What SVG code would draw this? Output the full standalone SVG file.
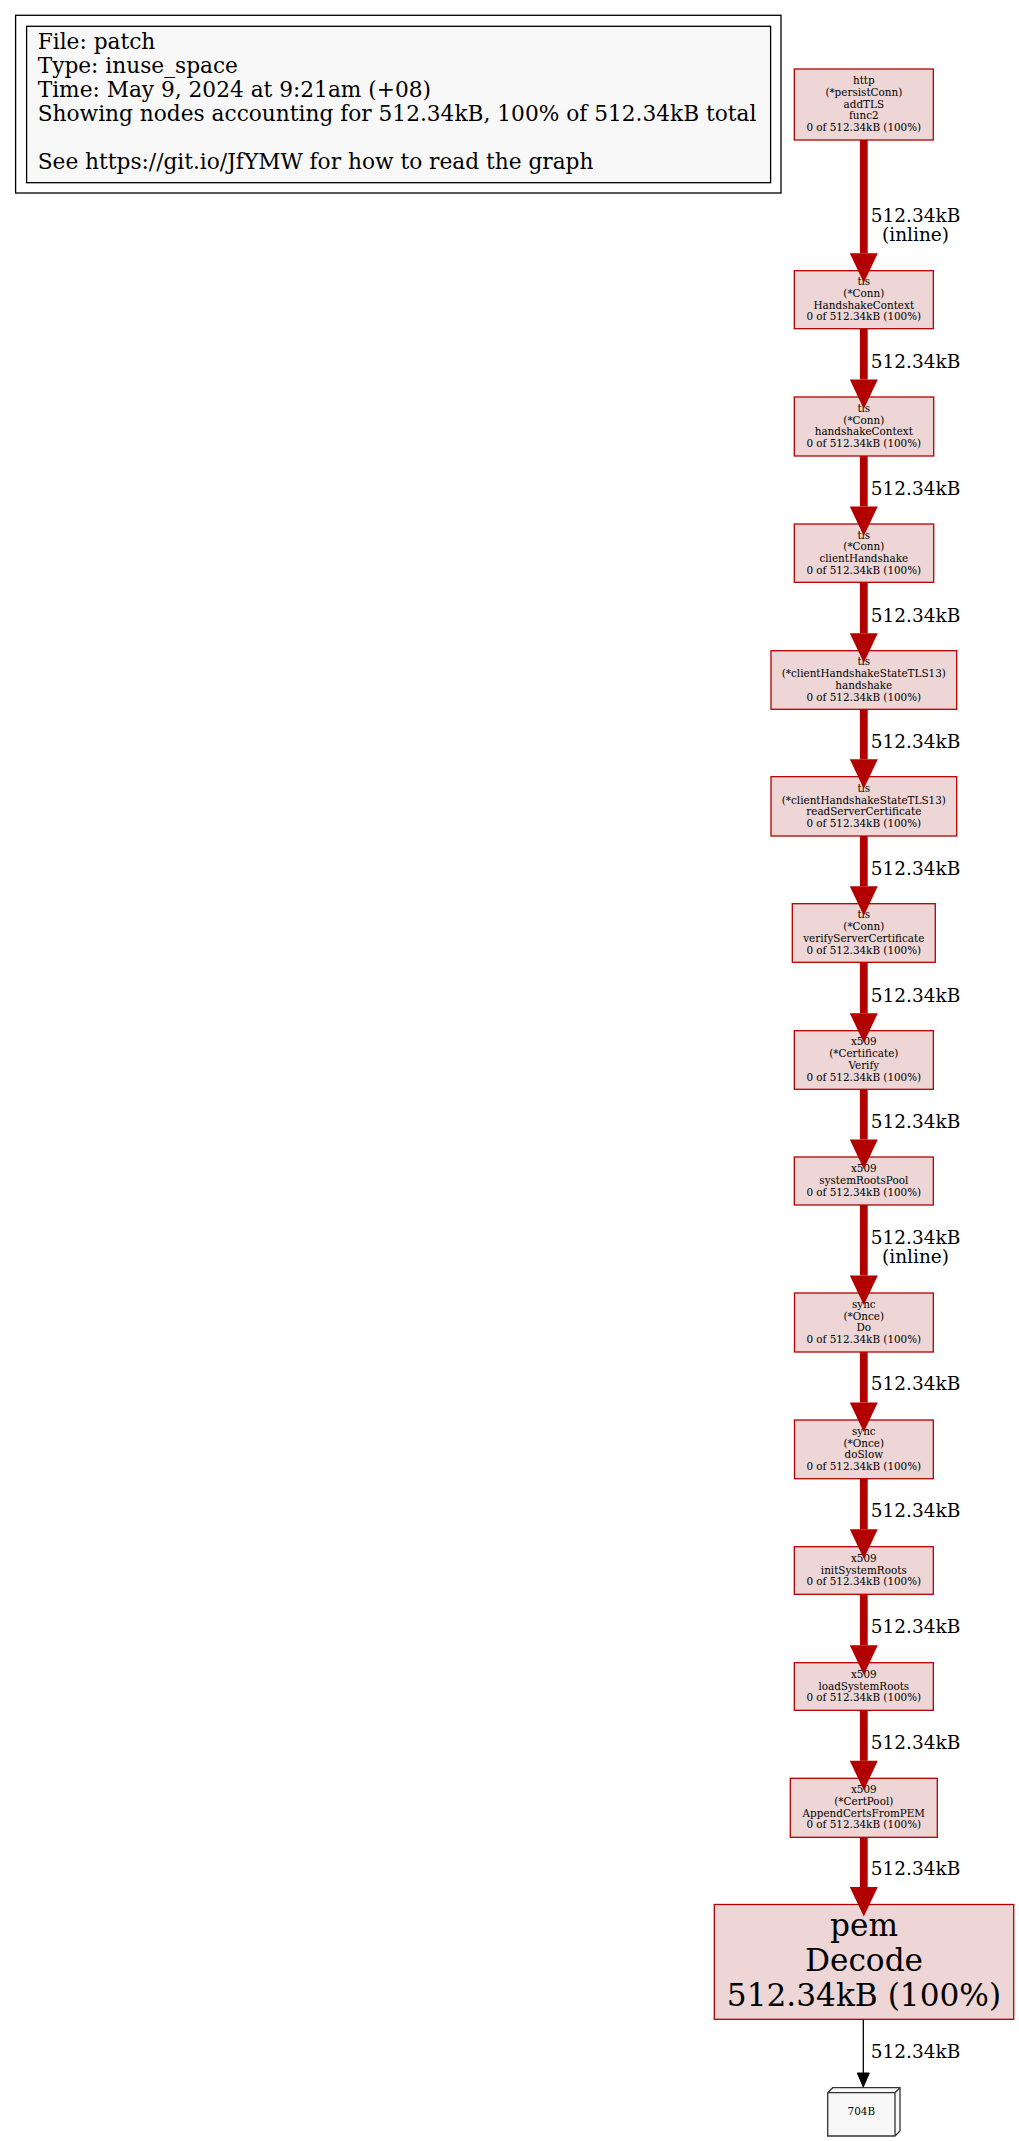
<svg xmlns="http://www.w3.org/2000/svg" width="1019" height="2141" viewBox="0 0 1019 2141">
<style>
.bg{fill:#ffffff}
.nd{fill:#edd6d5;stroke:#b20000;stroke-width:1.3}
.nt{font-family:"DejaVu Serif",serif;font-size:10.4px;fill:#000;text-anchor:middle}
.lg{font-family:"DejaVu Serif",serif;font-size:21.7px;fill:#000}
.el{font-family:"DejaVu Serif",serif;font-size:18.5px;fill:#000;text-anchor:middle}
.ed{stroke:#b20000;stroke-width:7.8;fill:none}
.ah{fill:#b20000;stroke:none}
</style>
<rect class="bg" x="0" y="0" width="1019" height="2141"/>
<g id="legend">
<rect x="15.6" y="15.3" width="765.4" height="177.7" fill="#ffffff" stroke="#000" stroke-width="1.3"/>
<rect x="26.6" y="26.3" width="744" height="156.4" fill="#f8f8f8" stroke="#000" stroke-width="1.3"/>
<text class="lg" x="37.7" y="48.5">File: patch</text>
<text class="lg" x="37.7" y="72.5">Type: inuse_space</text>
<text class="lg" x="37.7" y="96.5">Time: May 9, 2024 at 9:21am (+08)</text>
<text class="lg" x="37.7" y="120.5">Showing nodes accounting for 512.34kB, 100% of 512.34kB total</text>
<text class="lg" x="37.7" y="168.5">See https://git.io/JfYMW for how to read the graph</text>
</g>
<g id="N1"><rect class="nd" x="794.3" y="69" width="139" height="71"/>
<text class="nt" x="863.8" y="84.1">http</text><text class="nt" x="863.8" y="95.8">(*persistConn)</text><text class="nt" x="863.8" y="107.5">addTLS</text><text class="nt" x="863.8" y="119.2">func2</text><text class="nt" x="863.8" y="130.9">0 of 512.34kB (100%)</text></g>
<g id="N2"><rect class="nd" x="794.3" y="270.7" width="139" height="58"/>
<text class="nt" x="863.8" y="285.15">tls</text><text class="nt" x="863.8" y="296.85">(*Conn)</text><text class="nt" x="863.8" y="308.55">HandshakeContext</text><text class="nt" x="863.8" y="320.25">0 of 512.34kB (100%)</text></g>
<g id="N3"><rect class="nd" x="794.3" y="397" width="139.4" height="59"/>
<text class="nt" x="863.8" y="411.95">tls</text><text class="nt" x="863.8" y="423.65">(*Conn)</text><text class="nt" x="863.8" y="435.35">handshakeContext</text><text class="nt" x="863.8" y="447.05">0 of 512.34kB (100%)</text></g>
<g id="N4"><rect class="nd" x="794.3" y="524" width="139.4" height="58.3"/>
<text class="nt" x="863.8" y="538.6">tls</text><text class="nt" x="863.8" y="550.3">(*Conn)</text><text class="nt" x="863.8" y="562">clientHandshake</text><text class="nt" x="863.8" y="573.7">0 of 512.34kB (100%)</text></g>
<g id="N5"><rect class="nd" x="771" y="650.7" width="185.7" height="58.6"/>
<text class="nt" x="863.8" y="665.45">tls</text><text class="nt" x="863.8" y="677.15">(*clientHandshakeStateTLS13)</text><text class="nt" x="863.8" y="688.85">handshake</text><text class="nt" x="863.8" y="700.55">0 of 512.34kB (100%)</text></g>
<g id="N6"><rect class="nd" x="771" y="776.7" width="185.7" height="59.3"/>
<text class="nt" x="863.8" y="791.8">tls</text><text class="nt" x="863.8" y="803.5">(*clientHandshakeStateTLS13)</text><text class="nt" x="863.8" y="815.2">readServerCertificate</text><text class="nt" x="863.8" y="826.9">0 of 512.34kB (100%)</text></g>
<g id="N7"><rect class="nd" x="792.3" y="903.7" width="143" height="58.6"/>
<text class="nt" x="863.8" y="918.45">tls</text><text class="nt" x="863.8" y="930.15">(*Conn)</text><text class="nt" x="863.8" y="941.85">verifyServerCertificate</text><text class="nt" x="863.8" y="953.55">0 of 512.34kB (100%)</text></g>
<g id="N8"><rect class="nd" x="794.3" y="1030.7" width="139" height="58.6"/>
<text class="nt" x="863.8" y="1045.45">x509</text><text class="nt" x="863.8" y="1057.15">(*Certificate)</text><text class="nt" x="863.8" y="1068.85">Verify</text><text class="nt" x="863.8" y="1080.55">0 of 512.34kB (100%)</text></g>
<g id="N9"><rect class="nd" x="794.3" y="1157" width="139" height="48"/>
<text class="nt" x="863.8" y="1172.3">x509</text><text class="nt" x="863.8" y="1184">systemRootsPool</text><text class="nt" x="863.8" y="1195.7">0 of 512.34kB (100%)</text></g>
<g id="N10"><rect class="nd" x="794.5" y="1293" width="138.8" height="59"/>
<text class="nt" x="863.8" y="1307.95">sync</text><text class="nt" x="863.8" y="1319.65">(*Once)</text><text class="nt" x="863.8" y="1331.35">Do</text><text class="nt" x="863.8" y="1343.05">0 of 512.34kB (100%)</text></g>
<g id="N11"><rect class="nd" x="794.5" y="1420" width="138.8" height="58.7"/>
<text class="nt" x="863.8" y="1434.8">sync</text><text class="nt" x="863.8" y="1446.5">(*Once)</text><text class="nt" x="863.8" y="1458.2">doSlow</text><text class="nt" x="863.8" y="1469.9">0 of 512.34kB (100%)</text></g>
<g id="N12"><rect class="nd" x="794.3" y="1546.7" width="139" height="47.6"/>
<text class="nt" x="863.8" y="1561.8">x509</text><text class="nt" x="863.8" y="1573.5">initSystemRoots</text><text class="nt" x="863.8" y="1585.2">0 of 512.34kB (100%)</text></g>
<g id="N13"><rect class="nd" x="794.3" y="1662.7" width="139" height="47.6"/>
<text class="nt" x="863.8" y="1677.8">x509</text><text class="nt" x="863.8" y="1689.5">loadSystemRoots</text><text class="nt" x="863.8" y="1701.2">0 of 512.34kB (100%)</text></g>
<g id="N14"><rect class="nd" x="790.3" y="1778.3" width="147" height="59"/>
<text class="nt" x="863.8" y="1793.25">x509</text><text class="nt" x="863.8" y="1804.95">(*CertPool)</text><text class="nt" x="863.8" y="1816.65">AppendCertsFromPEM</text><text class="nt" x="863.8" y="1828.35">0 of 512.34kB (100%)</text></g>
<g id="N15"><rect class="nd" x="714.3" y="1904.5" width="299.4" height="114.8"/>
<text class="nt" style="font-size:31.2px" x="864" y="1936">pem</text><text class="nt" style="font-size:31.2px" x="864" y="1971">Decode</text><text class="nt" style="font-size:31.2px" x="864" y="2005.5">512.34kB (100%)</text></g>
<g id="N16">
<path d="M900,2087.7 L832.7,2087.7 L827.7,2092.7 L827.7,2136 L895,2136 L900,2131 Z" fill="#f8f8f8" stroke="#333" stroke-width="1.3"/>
<path d="M895,2092.7 L827.7,2092.7 M895,2092.7 L895,2136 M895,2092.7 L900,2087.7" fill="none" stroke="#333" stroke-width="1.3"/>
<text class="nt" x="861.3" y="2114.5">704B</text>
</g>
<g id="edges">
<path class="ed" d="M863.8,140 V253.2"/><polygon class="ah" points="849.8,253.2 877.8,253.2 863.8,282.7"/>
<text class="el" x="915.5" y="221.5">512.34kB</text><text class="el" x="915.5" y="240.5">(inline)</text>
<path class="ed" d="M863.8,328.7 V379.5"/><polygon class="ah" points="849.8,379.5 877.8,379.5 863.8,409"/>
<text class="el" x="915.5" y="367.6">512.34kB</text>
<path class="ed" d="M863.8,456 V506.5"/><polygon class="ah" points="849.8,506.5 877.8,506.5 863.8,536"/>
<text class="el" x="915.5" y="495">512.34kB</text>
<path class="ed" d="M863.8,582.3 V633.2"/><polygon class="ah" points="849.8,633.2 877.8,633.2 863.8,662.7"/>
<text class="el" x="915.5" y="621.5">512.34kB</text>
<path class="ed" d="M863.8,709.3 V759.2"/><polygon class="ah" points="849.8,759.2 877.8,759.2 863.8,788.7"/>
<text class="el" x="915.5" y="747.7">512.34kB</text>
<path class="ed" d="M863.8,836 V886.2"/><polygon class="ah" points="849.8,886.2 877.8,886.2 863.8,915.7"/>
<text class="el" x="915.5" y="874.8">512.34kB</text>
<path class="ed" d="M863.8,962.3 V1013.2"/><polygon class="ah" points="849.8,1013.2 877.8,1013.2 863.8,1042.7"/>
<text class="el" x="915.5" y="1001.5">512.34kB</text>
<path class="ed" d="M863.8,1089.3 V1139.5"/><polygon class="ah" points="849.8,1139.5 877.8,1139.5 863.8,1169"/>
<text class="el" x="915.5" y="1128.3">512.34kB</text>
<path class="ed" d="M863.8,1205 V1275.5"/><polygon class="ah" points="849.8,1275.5 877.8,1275.5 863.8,1305"/>
<text class="el" x="915.5" y="1243.8">512.34kB</text><text class="el" x="915.5" y="1262.8">(inline)</text>
<path class="ed" d="M863.8,1352 V1402.5"/><polygon class="ah" points="849.8,1402.5 877.8,1402.5 863.8,1432"/>
<text class="el" x="915.5" y="1390">512.34kB</text>
<path class="ed" d="M863.8,1478.7 V1529.2"/><polygon class="ah" points="849.8,1529.2 877.8,1529.2 863.8,1558.7"/>
<text class="el" x="915.5" y="1516.7">512.34kB</text>
<path class="ed" d="M863.8,1594.3 V1645.2"/><polygon class="ah" points="849.8,1645.2 877.8,1645.2 863.8,1674.7"/>
<text class="el" x="915.5" y="1633.3">512.34kB</text>
<path class="ed" d="M863.8,1710.3 V1760.8"/><polygon class="ah" points="849.8,1760.8 877.8,1760.8 863.8,1790.3"/>
<text class="el" x="915.5" y="1749">512.34kB</text>
<path class="ed" d="M863.8,1837.3 V1887"/><polygon class="ah" points="849.8,1887 877.8,1887 863.8,1916.5"/>
<text class="el" x="915.5" y="1875">512.34kB</text>
<path d="M863.3,2019.3 V2073" stroke="#000" stroke-width="1.3" fill="none"/><polygon points="857.3,2073 869.3,2073 863.3,2087" fill="#000" stroke="#000" stroke-width="1"/>
<text class="el" x="915.5" y="2058.3">512.34kB</text>
</g>
</svg>
